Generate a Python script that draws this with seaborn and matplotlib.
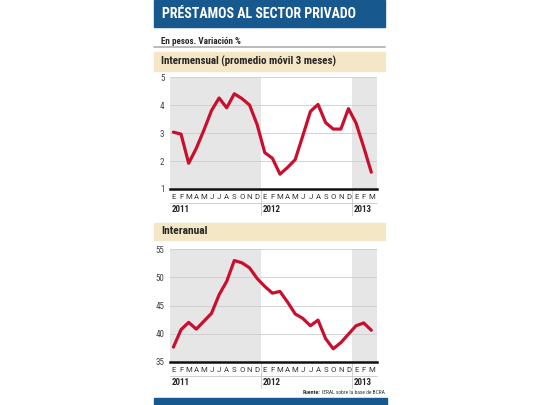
import numpy as np
import pandas as pd
import seaborn as sns
import matplotlib.pyplot as plt
import matplotlib.transforms as mtransforms
from matplotlib.patches import Rectangle

sns.set_style("white")
plt.rcParams['font.family'] = ['Roboto Condensed', 'Liberation Sans Narrow', 'Roboto', 'DejaVu Sans']

months = ["E", "F", "M", "A", "M", "J", "J", "A", "S", "O", "N", "D"] * 2 + ["E", "F", "M"]
years = ["2011", "2012", "2013"]

# Intermensual (promedio movil 3 meses), %
intermensual = [3.03, 2.96, 1.92, 2.45, 3.1, 3.8, 4.25, 3.9, 4.4, 4.23, 4.0, 3.3,
                2.3, 2.1, 1.53, 1.77, 2.05, 2.9, 3.77, 4.02, 3.37, 3.14, 3.14, 3.87,
                3.35, 2.5, 1.6]
# Interanual, %
interanual = [37.6, 40.7, 42.0, 40.8, 42.2, 43.6, 46.9, 49.3, 53.0, 52.6, 51.7, 49.8,
              48.4, 47.2, 47.5, 45.6, 43.5, 42.7, 41.4, 42.4, 39.1, 37.3, 38.4, 39.9,
              41.4, 41.9, 40.6]

df = pd.DataFrame({"idx": np.arange(len(months)), "mes": months,
                   "intermensual": intermensual, "interanual": interanual})

W, H = 540, 405
BLUE = "#17598f"
BEIGE = "#f4e7c6"
RED = "#c8102e"
SHADE = "#e6e6e6"


def box(x0, y0, x1, y1):
    # image pixel box -> figure fraction rect
    return [x0 / W, 1 - y1 / H, (x1 - x0) / W, (y1 - y0) / H]


fig = plt.figure(figsize=(5.4, 4.05), dpi=100)
fig.patch.set_facecolor("white")
renderer = fig.canvas.get_renderer()


def fit(txt, width_px):
    # shrink/grow a text so it spans about width_px pixels
    w = txt.get_window_extent(renderer).width
    txt.set_fontsize(txt.get_fontsize() * width_px / w)
    return txt


# header bars
for (x0, y0, x1, y1, c) in [(154, 0, 385, 27, BLUE), (154, 52, 385, 71, BEIGE),
                            (154, 223, 385, 240, BEIGE), (154, 398, 387, 405, BLUE)]:
    fig.patches.append(Rectangle((x0 / W, 1 - y1 / H), (x1 - x0) / W, (y1 - y0) / H,
                                 transform=fig.transFigure, color=c, zorder=0))
fig.add_artist(plt.Line2D([154 / W, 385 / W], [1 - 47 / H] * 2, color="#b5b5b5", lw=1.3))

fit(fig.text(162 / W, 1 - 14 / H, "PRÉSTAMOS AL SECTOR PRIVADO", color="white",
             fontsize=11, fontweight="bold", va="center", ha="left"), 195)
fit(fig.text(161 / W, 1 - 41 / H, "En pesos. Variación %", fontsize=6.5,
             fontweight="bold", va="center", ha="left"), 80)
fit(fig.text(161 / W, 1 - 61.5 / H, "Intermensual (promedio móvil 3 meses)", fontsize=8.5,
             fontweight="bold", va="center", ha="left"), 176)
fit(fig.text(161 / W, 1 - 231.5 / H, "Interanual", fontsize=8.5,
             fontweight="bold", va="center", ha="left"), 46)
src = fit(fig.text(385 / W, 1 - 392 / H, "IERAL sobre la base de BCRA", fontsize=4.5,
                   va="center", ha="right", color="#333333"), 63)
src_left = src.get_window_extent(renderer).x0
fit(fig.text(src_left / W - 1.5 / W, 1 - 392 / H, "Fuente:", fontsize=4.5, fontweight="bold",
             va="center", ha="right", color="#333333"), 18)


def panel(rect, col, ylim, yticks):
    ax = fig.add_axes(rect)
    x0, x1 = -0.45, 26.75
    ax.set_xlim(x0, x1)
    ax.set_ylim(*ylim)
    ax.axvspan(x0, 11.5, color=SHADE, zorder=0, lw=0)
    ax.axvspan(23.5, x1, color=SHADE, zorder=0, lw=0)
    for t in yticks[1:]:
        ax.axhline(t, color="#cccccc", lw=0.6, zorder=1)
    sns.lineplot(data=df, x="idx", y=col, ax=ax, color=RED, lw=2.3, zorder=3)
    ax.set_xlabel("")
    ax.set_ylabel("")
    ax.set_yticks(yticks)
    ax.set_yticklabels([str(t) for t in yticks], fontsize=6.5, color="#444444")
    ax.set_xticks(df["idx"])
    ax.set_xticklabels(df["mes"], fontsize=5.6, color="#333333",
                       family=['Roboto', 'DejaVu Sans'])
    ax.tick_params(length=0, pad=3.5)
    ax.tick_params(axis="y", pad=4)
    for s in ["top", "right", "left"]:
        ax.spines[s].set_visible(False)
    ax.spines["bottom"].set_linewidth(1.8)
    ax.spines["bottom"].set_color("#111111")
    tr = mtransforms.blended_transform_factory(ax.transData, ax.transAxes)
    ax.plot([x0, x1], [-0.125, -0.125], transform=tr, color="#c8c8c8", lw=0.6, clip_on=False)
    for xb in [11.5, 23.5]:
        ax.plot([xb, xb], [0, -0.23], transform=tr, color="#c8c8c8", lw=0.6, clip_on=False)
    for xy, yr in zip([-0.2, 11.75, 23.75], years):
        ax.text(xy, -0.185, yr, transform=tr, fontsize=6.5, fontweight="bold",
                ha="left", va="center")
    return ax


panel(box(170, 77, 377, 189), "intermensual", (1, 5), [1, 2, 3, 4, 5])
panel(box(170, 249.3, 377, 361.7), "interanual", (35, 55), [35, 40, 45, 50, 55])

fig.savefig("out.png", dpi=100)
